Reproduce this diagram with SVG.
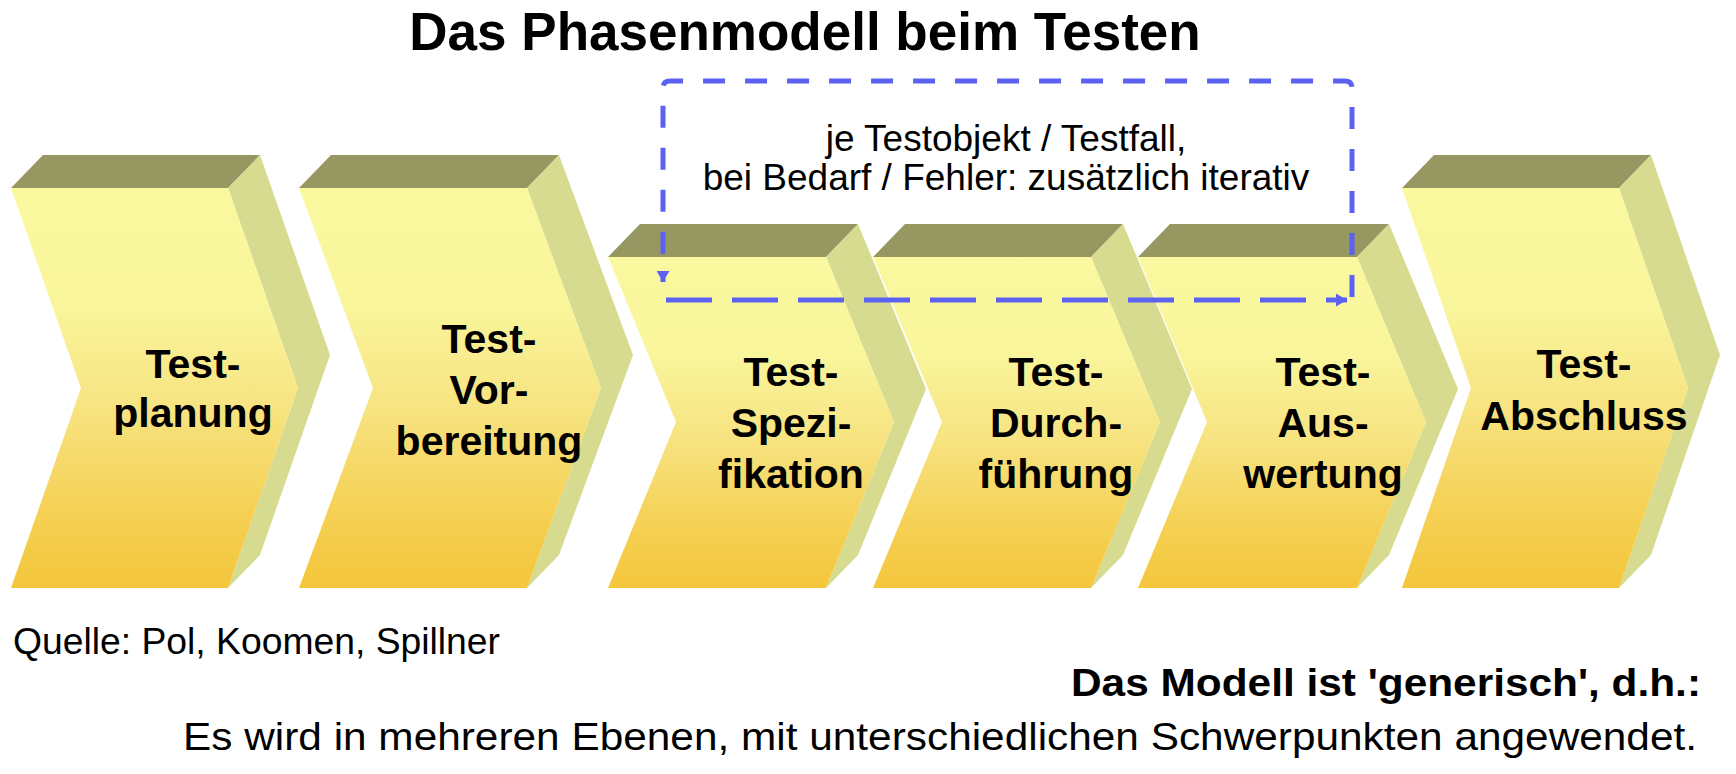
<svg xmlns="http://www.w3.org/2000/svg" width="1736" height="774" viewBox="0 0 1736 774">
  <defs>
    <linearGradient id="frontGrad" x1="0" y1="0" x2="0" y2="1">
      <stop offset="0" stop-color="#FAF9A0"/>
      <stop offset="0.3" stop-color="#F9F59B"/>
      <stop offset="0.55" stop-color="#F7E381"/>
      <stop offset="0.8" stop-color="#F5D156"/>
      <stop offset="1" stop-color="#F4C63B"/>
    </linearGradient>
    <marker id="arrowBlue" markerUnits="userSpaceOnUse" markerWidth="12" markerHeight="13" refX="11" refY="6.5" orient="auto">
      <path d="M0,0 L11,6.5 L0,13 Z" fill="#5B62F2"/>
    </marker>
  </defs>
  <style>
    .front { fill: url(#frontGrad); }
    .top { fill: #979762; }
    .side { fill: #D6DB8F; }
    .lbl { font-family: "Liberation Sans", Arial, sans-serif; font-weight: bold; font-size: 41px; fill: #000; text-anchor: middle; }
    .note { font-family: "Liberation Sans", Arial, sans-serif; font-size: 37px; fill: #000; text-anchor: middle; }
    .title { font-family: "Liberation Sans", Arial, sans-serif; font-weight: bold; font-size: 53px; fill: #000; text-anchor: middle; }
    .foot { font-family: "Liberation Sans", Arial, sans-serif; font-size: 37px; fill: #000; }
    .footb { font-family: "Liberation Sans", Arial, sans-serif; font-weight: bold; font-size: 39px; fill: #000; }
    .foot2 { font-family: "Liberation Sans", Arial, sans-serif; font-size: 39px; fill: #000; }
    .dashS { fill: none; stroke: #5B62F2; stroke-width: 5; stroke-dasharray: 22 20; }
    .dashL { fill: none; stroke: #5B62F2; stroke-width: 5; stroke-dasharray: 46 20; }
  </style>
  <rect width="1736" height="774" fill="#FFFFFF"/>

  <text class="title" x="805" y="50">Das Phasenmodell beim Testen</text>

  <g id="node-testplanung">
    <polygon class="top" points="11,188 228,188 260,155 43,155"/>
    <polygon class="side" points="228,188 260,155 330,355 260,555 228,588 298,388"/>
    <polygon class="front" points="11,188 228,188 298,388 228,588 11,588 81,388"/>
    <text class="lbl" x="193" y="378">Test-</text>
    <text class="lbl" x="193" y="427">planung</text>
  </g>

  <g id="node-testvorbereitung">
    <polygon class="top" points="299,188 527,188 559,155 331,155"/>
    <polygon class="side" points="527,188 559,155 633,355 559,555 527,588 601,388"/>
    <polygon class="front" points="299,188 527,188 601,388 527,588 299,588 373,388"/>
    <text class="lbl" x="489" y="353">Test-</text>
    <text class="lbl" x="489" y="404">Vor-</text>
    <text class="lbl" x="489" y="455">bereitung</text>
  </g>

  <g id="node-testspezifikation">
    <polygon class="top" points="608,257 826,257 858,224 640,224"/>
    <polygon class="side" points="826,257 858,224 926,389 858,555 826,588 894,422"/>
    <polygon class="front" points="608,257 826,257 894,422 826,588 608,588 676,422"/>
    <text class="lbl" x="791" y="386">Test-</text>
    <text class="lbl" x="791" y="437">Spezi-</text>
    <text class="lbl" x="791" y="488">fikation</text>
  </g>

  <g id="node-testdurchfuehrung">
    <polygon class="top" points="873,257 1091,257 1123,224 905,224"/>
    <polygon class="side" points="1091,257 1123,224 1192,389 1123,555 1091,588 1160,422"/>
    <polygon class="front" points="873,257 1091,257 1160,422 1091,588 873,588 942,422"/>
    <text class="lbl" x="1056" y="386">Test-</text>
    <text class="lbl" x="1056" y="437">Durch-</text>
    <text class="lbl" x="1056" y="488">führung</text>
  </g>

  <g id="node-testauswertung">
    <polygon class="top" points="1138,257 1357,257 1389,224 1170,224"/>
    <polygon class="side" points="1357,257 1389,224 1458,389 1389,555 1357,588 1426,422"/>
    <polygon class="front" points="1138,257 1357,257 1426,422 1357,588 1138,588 1207,422"/>
    <text class="lbl" x="1323" y="386">Test-</text>
    <text class="lbl" x="1323" y="437">Aus-</text>
    <text class="lbl" x="1323" y="488">wertung</text>
  </g>

  <g id="node-testabschluss">
    <polygon class="top" points="1402,188 1619,188 1651,155 1434,155"/>
    <polygon class="side" points="1619,188 1651,155 1720,355 1651,555 1619,588 1688,388"/>
    <polygon class="front" points="1402,188 1619,188 1688,388 1619,588 1402,588 1471,388"/>
    <text class="lbl" x="1584" y="378">Test-</text>
    <text class="lbl" x="1584" y="430">Abschluss</text>
  </g>

  <g id="connectors">
    <path class="dashS" d="M1352,297 V88 Q1352,81 1345,81 H670 Q663,81 663,88 V282" marker-end="url(#arrowBlue)"/>
    <path class="dashL" d="M666,300 H1347" marker-end="url(#arrowBlue)"/>
  </g>

  <g id="iteration-note">
    <text class="note" x="1006" y="151">je Testobjekt / Testfall,</text>
    <text class="note" x="1006" y="190">bei Bedarf / Fehler: zusätzlich iterativ</text>
  </g>

  <g id="footer">
    <text class="foot" x="13" y="654" textLength="487" lengthAdjust="spacingAndGlyphs">Quelle: Pol, Koomen, Spillner</text>
    <text class="footb" x="1071" y="696" textLength="630" lengthAdjust="spacingAndGlyphs">Das Modell ist 'generisch', d.h.:</text>
    <text class="foot2" x="183" y="750" textLength="1514" lengthAdjust="spacingAndGlyphs">Es wird in mehreren Ebenen, mit unterschiedlichen Schwerpunkten angewendet.</text>
  </g>
</svg>
